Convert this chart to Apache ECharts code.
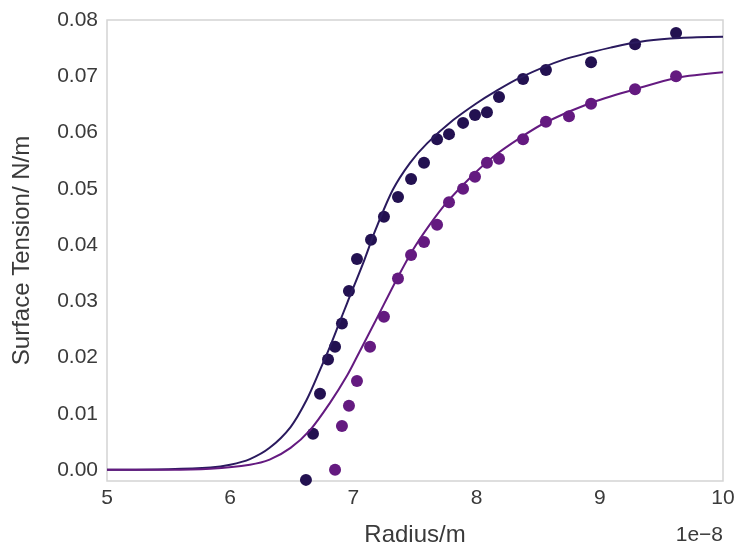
<!DOCTYPE html>
<html>
<head>
<meta charset="utf-8">
<title>Surface Tension</title>
<script src="https://cdn.jsdelivr.net/npm/echarts@6/dist/echarts.min.js"></script>
<style>
  html, body { margin: 0; padding: 0; background: #fff; }
  #main { width: 738px; height: 548px; }
</style>
</head>
<body>
<div id="main"></div>
<script>
// radius in units of 1e-8 m, surface tension in N/m
var darkX = [6.615, 6.672, 6.729, 6.794, 6.851, 6.907, 6.964, 7.029, 7.143, 7.248, 7.362, 7.468,
  7.573, 7.679, 7.776, 7.890, 7.987, 8.084, 8.182, 8.377, 8.563, 8.929, 9.286, 9.619];
var darkY = [-0.0018, 0.0064, 0.0135, 0.0196, 0.0219, 0.0260, 0.0318, 0.0375, 0.0409, 0.0450, 0.0485, 0.0517,
  0.0546, 0.0588, 0.0597, 0.0617, 0.0631, 0.0636, 0.0663, 0.0695, 0.0711, 0.0725, 0.0757, 0.0777];

var purpleX = [6.851, 6.907, 6.964, 7.029, 7.135, 7.248, 7.362, 7.468, 7.573, 7.679, 7.776,
  7.890, 7.987, 8.084, 8.182, 8.377, 8.563, 8.750, 8.929, 9.286, 9.619];
var purpleY = [0.0000, 0.0078, 0.0114, 0.0158, 0.0219, 0.0272, 0.0340, 0.0382, 0.0405, 0.0436, 0.0476,
  0.0500, 0.0521, 0.0546, 0.0553, 0.0588, 0.0619, 0.0629, 0.0651, 0.0677, 0.0700];

// fitted curves
var darkFitX = [5.0, 5.5, 5.84, 6.0, 6.16, 6.32, 6.49, 6.62, 6.73, 6.81, 6.88, 6.95, 7.08, 7.18, 7.32,
  7.46, 7.60, 7.81, 8.00, 8.13, 8.35, 8.70, 9.11, 9.38, 9.65, 10.0];
var darkFitY = [0.0, 0.0001, 0.0004, 0.0009, 0.0019, 0.0039, 0.0076, 0.0124, 0.0178, 0.0219, 0.0258, 0.0297, 0.0368, 0.0427, 0.0498,
  0.0546, 0.0581, 0.0622, 0.0652, 0.0670, 0.0697, 0.0729, 0.0752, 0.0763, 0.0768, 0.0770];

var purpleFitX = [5.0, 5.5, 5.84, 6.16, 6.32, 6.49, 6.65, 6.81, 6.95, 7.05, 7.18, 7.35, 7.48, 7.62, 7.76,
  7.95, 8.13, 8.35, 8.57, 8.92, 9.29, 9.62, 10.0];
var purpleFitY = [0.0, 0.0, 0.0002, 0.0009, 0.0018, 0.0039, 0.0071, 0.0119, 0.0168, 0.0210, 0.0265, 0.0338, 0.0390, 0.0436, 0.0476,
  0.0520, 0.0556, 0.0590, 0.0619, 0.0652, 0.0677, 0.0697, 0.0707];

var xTicks = [5, 6, 7, 8, 9, 10];
var yTicks = [0.00, 0.01, 0.02, 0.03, 0.04, 0.05, 0.06, 0.07, 0.08];

var darkColor = '#231151';
var darkLine = '#2a1a5e';
var purpleColor = '#641a80';

function zip(xs, ys) {
  var out = [];
  for (var i = 0; i < xs.length; i++) {
    out.push([xs[i], ys[i]]);
  }
  return out;
}

var textColor = '#3a3a3a';
var font = 'Liberation Sans, Arial, sans-serif';

var chart = echarts.init(document.getElementById('main'));
var option = {
  animation: false,
  textStyle: { fontFamily: font },
  grid: [
    { left: 107, right: 15, top: 20, bottom: 67, outerBoundsMode: 'none', containLabel: false,
      show: true, borderColor: '#d4d4d4', borderWidth: 1.5, backgroundColor: '#fff' },
    // label-only grid so the y tick labels start at 0.00 while the frame goes a little below it
    { left: 107, right: 15, top: 20, height: 450, outerBoundsMode: 'none', containLabel: false, show: false }
  ],
  xAxis: [
    {
      gridIndex: 0, type: 'value', min: xTicks[0], max: xTicks[xTicks.length - 1], interval: 1,
      axisLine: { show: false }, axisTick: { show: false }, splitLine: { show: false },
      axisLabel: { color: textColor, fontSize: 21, margin: 7, fontFamily: font },
      name: 'Radius/m', nameLocation: 'middle', nameGap: 42,
      nameTextStyle: { color: textColor, fontSize: 24, fontFamily: font }
    },
    { gridIndex: 1, type: 'value', min: 0, max: 1, show: false }
  ],
  yAxis: [
    {
      gridIndex: 0, type: 'value', min: -0.002, max: 0.08,
      axisLine: { show: false }, axisTick: { show: false }, splitLine: { show: false },
      axisLabel: { show: false },
      name: 'Surface Tension/ N/m', nameLocation: 'middle', nameGap: 73,
      nameTextStyle: { color: textColor, fontSize: 24, fontFamily: font }
    },
    {
      gridIndex: 1, type: 'value', min: yTicks[0], max: yTicks[yTicks.length - 1], interval: 0.01,
      axisLine: { show: false }, axisTick: { show: false }, splitLine: { show: false },
      axisLabel: {
        color: textColor, fontSize: 21, margin: 9, fontFamily: font,
        formatter: function (v) { return v.toFixed(2); }
      }
    }
  ],
  graphic: [
    {
      type: 'text', right: 15, top: 525,
      style: { text: '1e\u22128', fill: textColor, font: '21px ' + font }
    }
  ],
  series: [
    {
      type: 'scatter', xAxisIndex: 0, yAxisIndex: 0, data: zip(darkX, darkY),
      symbolSize: 12, itemStyle: { color: darkColor, opacity: 1 }, z: 2
    },
    {
      type: 'scatter', xAxisIndex: 0, yAxisIndex: 0, data: zip(purpleX, purpleY),
      symbolSize: 12, itemStyle: { color: purpleColor, opacity: 1 }, z: 2
    },
    {
      type: 'line', xAxisIndex: 0, yAxisIndex: 0, data: zip(darkFitX, darkFitY),
      smooth: 0.3, showSymbol: false, lineStyle: { color: darkLine, width: 2 }, z: 3
    },
    {
      type: 'line', xAxisIndex: 0, yAxisIndex: 0, data: zip(purpleFitX, purpleFitY),
      smooth: 0.3, showSymbol: false, lineStyle: { color: purpleColor, width: 2 }, z: 3
    }
  ]
};
chart.setOption(option);
</script>
</body>
</html>
